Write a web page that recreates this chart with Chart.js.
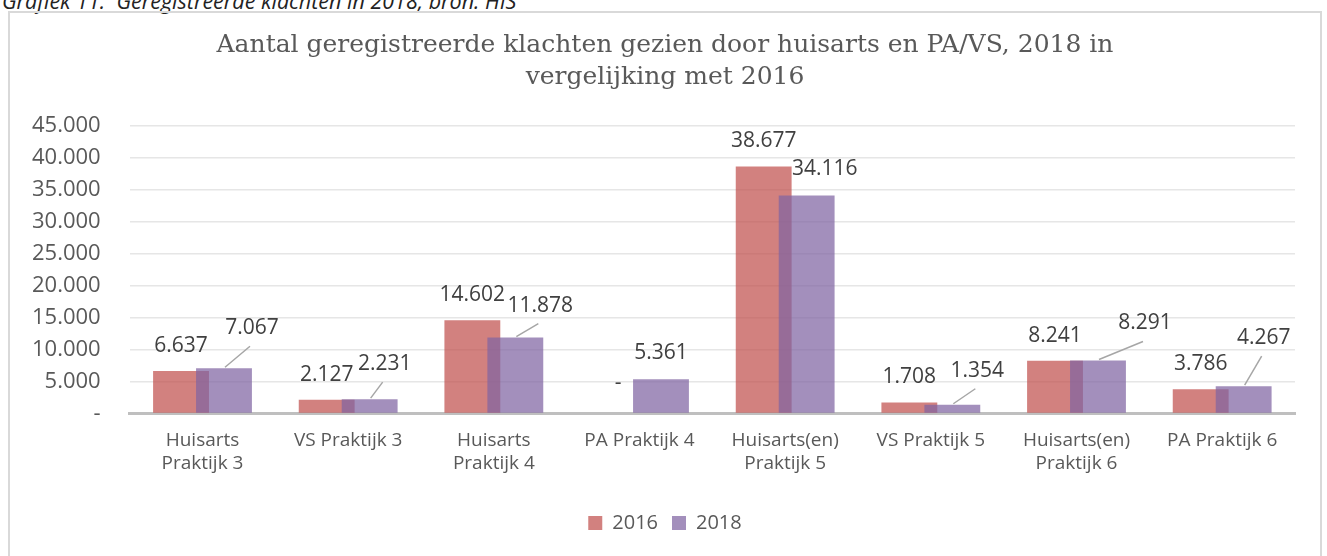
<!DOCTYPE html>
<html>
<head>
<meta charset="utf-8">
<script src="https://cdn.jsdelivr.net/npm/chart.js@4.4.0/dist/chart.umd.min.js"></script>
<style>
  body { margin: 0; width: 1327px; height: 556px; overflow: hidden; background: #fff; }
  #caption {
    position: absolute; left: 2px; top: -14px;
    font-family: "Open Sans", sans-serif; font-style: italic; font-size: 21.5px; color: #222;
    white-space: nowrap;
  }
  #frame {
    position: absolute; left: 8px; top: 11px; width: 1314px; height: 560px;
    border: 2px solid #d9d9d9; box-sizing: border-box;
  }
  #chart-wrap { position: absolute; left: 0; top: 0; width: 1310px; height: 543px; }
</style>
</head>
<body>
<div id="caption">Grafiek 11:&nbsp; Geregistreerde klachten in 2018, bron: HIS</div>
<div id="frame">
  <div id="chart-wrap"><canvas id="klachten-chart"></canvas></div>
</div>
<script>
const categories = [
  ['Huisarts', 'Praktijk 3'],
  'VS Praktijk 3',
  ['Huisarts', 'Praktijk 4'],
  'PA Praktijk 4',
  ['Huisarts(en)', 'Praktijk 5'],
  'VS Praktijk 5',
  ['Huisarts(en)', 'Praktijk 6'],
  'PA Praktijk 6'
];
const values2016 = [6637, 2127, 14602, 0, 38677, 1708, 8241, 3786];
const values2018 = [7067, 2231, 11878, 5361, 34116, 1354, 8291, 4267];
const yTicks = [0, 5000, 10000, 15000, 20000, 25000, 30000, 35000, 40000, 45000];

const textColor = '#595959';
const labelFont = '21px "Open Sans", sans-serif';

// dutch number format, 0 shown as a dash like in Excel
function fmt(n) {
  if (n === 0) return '-';
  return String(n).replace(/\B(?=(\d{3})+(?!\d))/g, '.');
}

// draw the 2016 bars first so the 2018 bars lie on top of them
const drawOrder = {
  id: 'drawOrder',
  beforeDatasetsDraw(chart) {
    chart.getDatasetMeta(0).controller.draw();
  },
  beforeDatasetDraw(chart, args) {
    if (args.index === 0) return false;
  }
};

// value labels, the 2018 ones were moved by hand in the original so they get a leader line
const valueLabels = {
  id: 'valueLabels',
  afterDatasetsDraw(chart, args, opts) {
    const ctx = chart.ctx;
    const base = chart.scales.y.getPixelForValue(0);
    ctx.save();
    ctx.font = labelFont;
    ctx.fillStyle = '#404040';
    ctx.textAlign = 'center';
    ctx.textBaseline = 'middle';
    chart.data.datasets.forEach((ds, di) => {
      const meta = chart.getDatasetMeta(di);
      meta.data.forEach((bar, i) => {
        const v = ds.data[i];
        if (di === 0) {
          const y = v === 0 ? base - 30 : bar.y - 25;
          ctx.fillText(fmt(v), bar.x, y);
        } else {
          const off = opts.offsets2018[i];
          const lx = bar.x + off[0];
          const ly = bar.y + off[1];
          if (Math.hypot(off[0], off[1]) > 33) {
            ctx.strokeStyle = '#a6a6a6';
            ctx.lineWidth = 1.5;
            ctx.beginPath();
            ctx.moveTo(bar.x + 1, bar.y - 1);
            ctx.lineTo(lx - 2, ly + 18);
            ctx.stroke();
          }
          ctx.fillText(fmt(v), lx, ly);
        }
      });
    });
    ctx.restore();
  }
};

new Chart(document.getElementById('klachten-chart'), {
  type: 'bar',
  data: {
    labels: categories,
    datasets: [
      {
        label: '2016',
        data: values2016,
        backgroundColor: 'rgba(192, 80, 77, 0.72)',
        barPercentage: 1.3,
        categoryPercentage: 0.59
      },
      {
        label: '2018',
        data: values2018,
        backgroundColor: 'rgba(128, 100, 162, 0.72)',
        barPercentage: 1.3,
        categoryPercentage: 0.59
      }
    ]
  },
  options: {
    responsive: true,
    maintainAspectRatio: false,
    animation: false,
    layout: { padding: { left: 0, right: 0, top: 0, bottom: 13 } },
    plugins: {
      title: {
        display: true,
        text: ['Aantal geregistreerde klachten gezien door huisarts en PA/VS, 2018 in', 'vergelijking met 2016'],
        color: textColor,
        font: { family: '"DejaVu Serif", serif', size: 25, weight: 'normal', lineHeight: 1.3 },
        padding: { top: 16, bottom: 32 }
      },
      legend: {
        position: 'bottom',
        labels: {
          color: textColor,
          font: { family: '"Open Sans", sans-serif', size: 20 },
          boxWidth: 14,
          boxHeight: 14,
          padding: 14
        }
      },
      tooltip: { enabled: false },
      valueLabels: {
        offsets2018: [[28, -40], [15, -35], [25, -32], [0, -26], [18, -26], [25, -34], [47, -37], [20, -48]]
      }
    },
    scales: {
      x: {
        grid: { display: false },
        border: { color: '#bfbfbf', width: 3 },
        ticks: {
          color: textColor,
          font: { family: '"Open Sans", sans-serif', size: 19, lineHeight: 1.2 },
          padding: 8,
          maxRotation: 0,
          autoSkip: false
        },
        afterFit(scale) {
          scale.height += 16;
        }
      },
      y: {
        min: 0,
        max: 45000,
        afterBuildTicks(scale) {
          scale.ticks = yTicks.map(v => ({ value: v }));
        },
        afterFit(scale) {
          scale.width -= 7;
        },
        grid: { color: '#e6e6e6', lineWidth: 1.5, drawTicks: false },
        border: { display: false },
        ticks: {
          color: textColor,
          font: { family: '"Open Sans", sans-serif', size: 22 },
          padding: 29,
          callback: v => fmt(v)
        }
      },
      // empty axis on the right, only keeps the right margin so title and legend stay centred
      yRight: {
        position: 'right',
        grid: { display: false },
        border: { display: false },
        ticks: { display: false },
        afterFit(scale) {
          scale.width = 25;
        }
      }
    }
  },
  plugins: [drawOrder, valueLabels]
});
</script>
</body>
</html>
